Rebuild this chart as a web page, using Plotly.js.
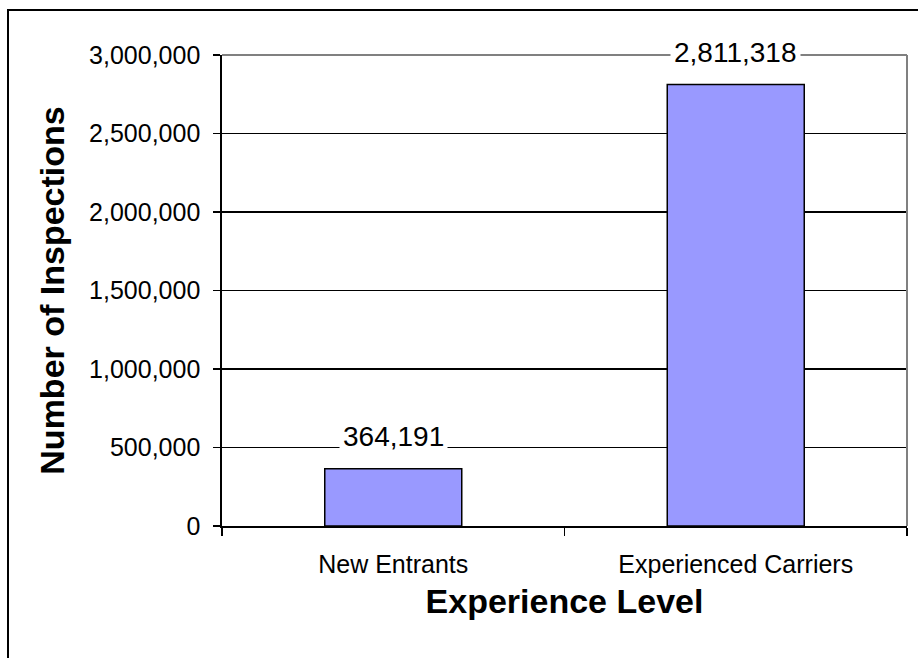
<!DOCTYPE html>
<html>
<head>
<meta charset="utf-8">
<script src="https://cdn.plot.ly/plotly-3.0.1.min.js"></script>
<style>
  html, body { margin: 0; padding: 0; overflow: hidden; background: #fff; }
  #chart { width: 918px; height: 658px; }
  #frame { position: absolute; left: 7px; top: 9px; width: 1200px; height: 1200px;
           border-left: 2px solid #000; border-top: 2px solid #000; pointer-events: none; }
</style>
</head>
<body>
<div id="chart"></div>
<div id="frame"></div>
<script>
const categories = ["New Entrants", "Experienced Carriers"];
const inspections = [364191, 2811318];
const dataLabels = ["364,191", "2,811,318"];
const yTickVals = [0, 500000, 1000000, 1500000, 2000000, 2500000, 3000000];
const yTickText = ["0", "500,000", "1,000,000", "1,500,000", "2,000,000", "2,500,000", "3,000,000"];

const FONT = '"Liberation Sans", Arial, sans-serif';

const trace = {
  type: 'bar',
  x: categories,
  y: inspections,
  marker: { color: '#9999FF', line: { color: '#000', width: 1.5 } },
  hoverinfo: 'none'
};

const annotations = categories.map((c, i) => ({
  x: c, y: inspections[i], xref: 'x', yref: 'y',
  text: dataLabels[i], showarrow: false,
  yanchor: 'middle', yshift: 32,
  bgcolor: '#fff', borderpad: 3,
  font: { family: FONT, size: 28, color: '#000' }
}));

const layout = {
  width: 918, height: 658,
  margin: { l: 222, r: 11, t: 55, b: 132, pad: 0 },
  paper_bgcolor: '#fff', plot_bgcolor: '#fff',
  showlegend: false,
  bargap: 0.6,
  font: { family: FONT, color: '#000' },
  xaxis: {
    type: 'category',
    range: [-0.5, 1.5],
    tickson: 'boundaries',
    ticks: 'outside', ticklen: 8, tickwidth: 1.5, tickcolor: '#000',
    showgrid: false,
    showline: true, linecolor: '#000', linewidth: 1.7,
    tickfont: { family: FONT, size: 25, color: '#000' },
    ticklabelstandoff: 15,
    title: { text: 'Experience Level', font: { family: FONT, size: 34, color: '#000', weight: 'bold' }, standoff: 12 },
    fixedrange: true
  },
  yaxis: {
    range: [0, 3000000],
    tickvals: yTickVals, ticktext: yTickText,
    ticks: 'outside', ticklen: 7, tickwidth: 1.5, tickcolor: '#000',
    showgrid: true, gridcolor: '#000', gridwidth: 1.7,
    zeroline: false,
    showline: true, linecolor: '#000', linewidth: 1.7,
    tickfont: { family: FONT, size: 25, color: '#000' },
    ticklabelstandoff: 8,
    title: { text: 'Number of Inspections', font: { family: FONT, size: 34, color: '#000', weight: 'bold' }, standoff: 14 },
    fixedrange: true
  },
  shapes: [
    { type: 'line', xref: 'paper', yref: 'paper', x0: 0, x1: 1, y0: 1, y1: 1,
      line: { color: '#808080', width: 2 }, layer: 'above' },
    { type: 'line', xref: 'paper', yref: 'paper', x0: 1, x1: 1, y0: 0, y1: 1,
      line: { color: '#808080', width: 2 }, layer: 'above' }
  ],
  annotations: annotations
};

Plotly.newPlot('chart', [trace], layout, { displayModeBar: false, staticPlot: true });
</script>
</body>
</html>
